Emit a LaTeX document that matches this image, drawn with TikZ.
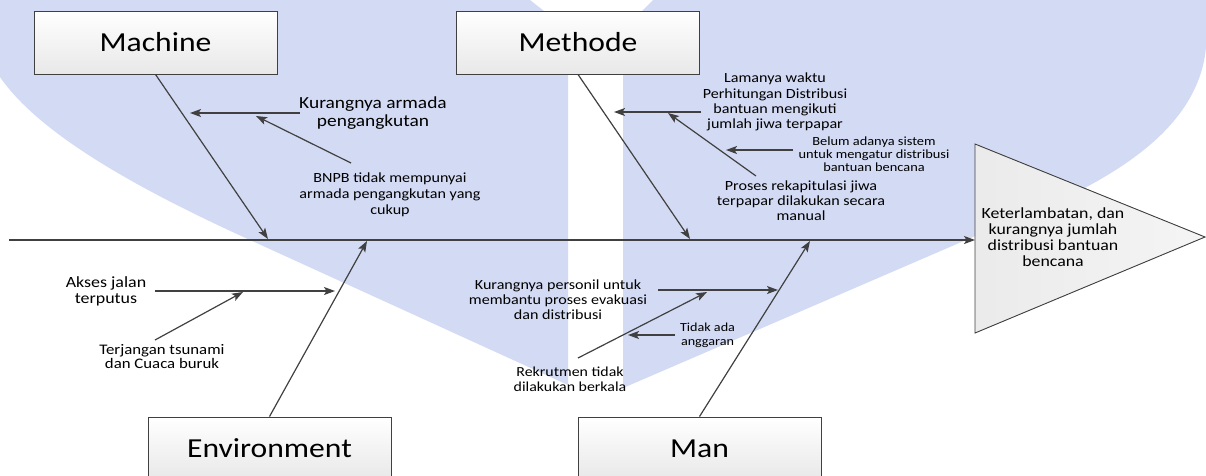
\documentclass[tikz,border=0pt]{standalone}
\usepackage{fontspec}
\setmainfont{Carlito}[FakeStretch=1.15]
\usetikzlibrary{arrows.meta}
\definecolor{wm}{RGB}{211,218,243}
\definecolor{ln}{RGB}{64,64,64}
\tikzset{
  bone/.style={draw=ln, line width=1.2pt, -{Stealth[length=11pt,width=8pt,inset=2.5pt]}},
  cat/.style={draw=ln, line width=0.9pt, top color=white, bottom color=black!9,
    minimum width=243pt, minimum height=63pt, inner sep=0pt,
    font=\fontsize{27.5}{30}\selectfont},
  lbl/.style={align=center, inner sep=0pt, text=black},
}
\begin{document}
\begin{tikzpicture}[x=1pt,y=-1pt]
\useasboundingbox (0,0) rectangle (1206,475);
% watermark
\fill[wm] (0,0) -- (530,0) -- (568,30) -- (568,385) -- (250,240)
  .. controls (140,190) and (40,135) .. (0,77) -- cycle;
\fill[wm] (653,0) -- (1206,0) -- (1206,47)
  .. controls (1200,115) and (1140,160) .. (1075,193) -- (623,388) -- (623,30) -- cycle;
% effect triangle
\filldraw[draw=ln, line width=0.9pt, left color=black!8, right color=black!4]
  (975,144) -- (1205,237) -- (975,333) -- cycle;
\node[lbl, font=\fontsize{15.5}{16}\selectfont] (eff) at (1053,237)
  {Keterlambatan, dan\\kurangnya jumlah\\distribusi bantuan\\bencana};
% category boxes
\node[cat] (mach) at (155.5,42.5) {Machine};
\node[cat] (meth) at (578,42.5) {Methode};
\node[cat] (env) at (269.5,448.5) {Environment};
\node[cat] (man) at (699.5,448.5) {Man};
% spine
\coordinate (sp0) at (9,240);
\coordinate (sp1) at (975,240);
\draw[bone] (sp0) -- (sp1);
% bones
\coordinate (bM) at (268,239);
\coordinate (bT) at (690,239);
\coordinate (bE) at (367,241);
\coordinate (bN) at (810,241);
\draw[bone] (mach.south) -- (bM);
\draw[bone] (meth.south) -- (bT);
\draw[bone] (env.north) -- (bE);
\draw[bone] (man.north) -- (bN);
% Machine causes
\node[lbl, font=\fontsize{16.9}{18}\selectfont] (k1) at (373,113) {Kurangnya armada\\pengangkutan};
\coordinate (k1s) at (300,113); \coordinate (k1e) at (190,113);
\draw[bone] (k1s) -- (k1e);
\node[lbl, font=\fontsize{14}{16}\selectfont] (k2) at (390,195) {BNPB tidak mempunyai\\armada pengangkutan yang\\cukup};
\coordinate (k2s) at (351,163); \coordinate (k2e) at (256,116);
\draw[bone] (k2s) -- (k2e);
% Methode causes
\node[lbl, font=\fontsize{14}{15.3}\selectfont] (m1) at (775,102) {Lamanya waktu\\Perhitungan Distribusi\\bantuan mengikuti\\jumlah jiwa terpapar};
\coordinate (m1s) at (701,112); \coordinate (m1e) at (614,112);
\draw[bone] (m1s) -- (m1e);
\node[lbl, font=\fontsize{14}{15}\selectfont] (m2) at (801,201) {Proses rekapitulasi jiwa\\terpapar dilakukan secara\\manual};
\coordinate (m2s) at (756,176); \coordinate (m2e) at (668,113);
\draw[bone] (m2s) -- (m2e);
\node[lbl, font=\fontsize{12.5}{13}\selectfont] (m3) at (874,154) {Belum adanya sistem\\untuk mengatur distribusi\\bantuan bencana};
\coordinate (m3s) at (793,150); \coordinate (m3e) at (726,150);
\draw[bone] (m3s) -- (m3e);
% Environment causes
\node[lbl, font=\fontsize{15.6}{16}\selectfont] (e1) at (106,291) {Akses jalan\\terputus};
\coordinate (e1s) at (155,291); \coordinate (e1e) at (335,291);
\draw[bone] (e1s) -- (e1e);
\node[lbl, font=\fontsize{14.6}{14}\selectfont] (e2) at (162,357) {Terjangan tsunami\\dan Cuaca buruk};
\coordinate (e2s) at (155,340); \coordinate (e2e) at (243,292);
\draw[bone] (e2s) -- (e2e);
% Man causes
\node[lbl, font=\fontsize{14}{15}\selectfont] (n1) at (558,300) {Kurangnya personil untuk\\membantu proses evakuasi\\dan distribusi};
\coordinate (n1s) at (658,290); \coordinate (n1e) at (778,290);
\draw[bone] (n1s) -- (n1e);
\node[lbl, font=\fontsize{13.8}{15}\selectfont] (n2) at (570,379.5) {Rekrutmen tidak\\dilakukan berkala};
\coordinate (n2s) at (578,358); \coordinate (n2e) at (707,292);
\draw[bone] (n2s) -- (n2e);
\node[lbl, font=\fontsize{12.3}{14}\selectfont] (n3) at (707.5,335) {Tidak ada\\anggaran};
\coordinate (n3s) at (675,335); \coordinate (n3e) at (628,335);
\draw[bone] (n3s) -- (n3e);
\end{tikzpicture}
\end{document}
